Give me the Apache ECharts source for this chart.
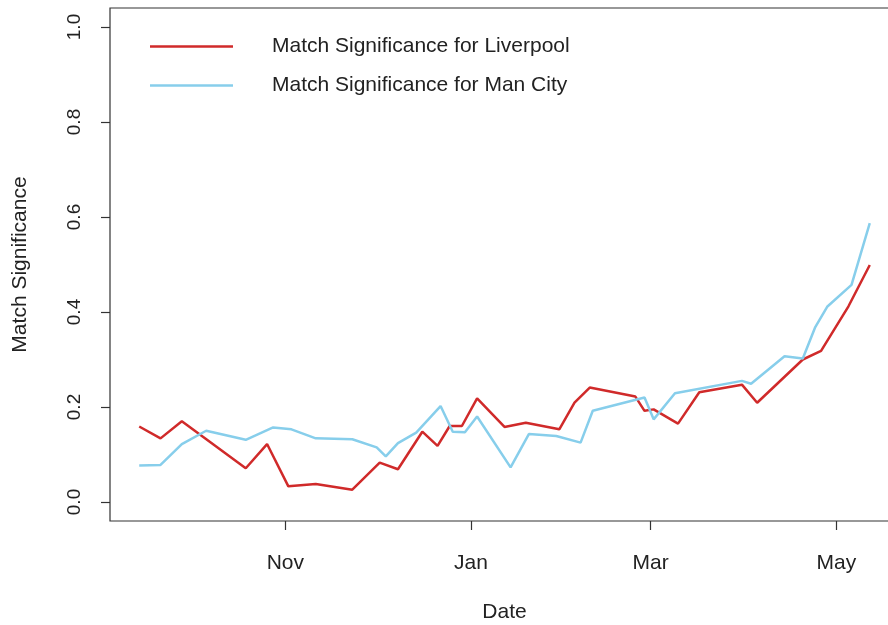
<!DOCTYPE html>
<html lang="en">
<head>
    <meta charset="UTF-8">
    <title>Match Significance</title>
    <script src="https://cdn.jsdelivr.net/npm/echarts@6/dist/echarts.min.js"></script>
</head>
<style>
    *{
        margin: 0;
        padding: 0;
    }
    html , body{
        width: 100%;
        height: 100%;
        overflow: hidden;
        background: #fff;
    }
    .container{
        width: 888px;
        height: 625px;
    }
</style>
<body>
<div class="container"></div>
<script>
    // match dates and values
    let liverpoolDates=['2018-09-14','2018-09-21','2018-09-28','2018-10-19','2018-10-26','2018-11-02','2018-11-11',
        '2018-11-23','2018-12-02','2018-12-08','2018-12-16','2018-12-21','2018-12-25','2018-12-29','2019-01-03',
        '2019-01-12','2019-01-19','2019-01-30','2019-02-04','2019-02-09','2019-02-24','2019-02-27','2019-03-02',
        '2019-03-10','2019-03-17','2019-03-31','2019-04-05','2019-04-20','2019-04-26','2019-05-05','2019-05-12'];
    let liverpoolValues=[0.159,0.134,0.170,0.071,0.122,0.033,0.038,
        0.026,0.083,0.069,0.148,0.118,0.160,0.160,0.218,
        0.158,0.167,0.153,0.209,0.241,0.222,0.192,0.195,
        0.165,0.231,0.247,0.209,0.300,0.318,0.412,0.499];

    let cityDates=['2018-09-14','2018-09-21','2018-09-28','2018-10-06','2018-10-19','2018-10-28','2018-11-03',
        '2018-11-11','2018-11-23','2018-12-01','2018-12-04','2018-12-08','2018-12-14','2018-12-22','2018-12-26',
        '2018-12-30','2019-01-03','2019-01-14','2019-01-20','2019-01-29','2019-02-06','2019-02-10','2019-02-27',
        '2019-03-02','2019-03-09','2019-03-31','2019-04-03','2019-04-14','2019-04-20','2019-04-24','2019-04-28',
        '2019-05-06','2019-05-12'];
    let cityValues=[0.077,0.078,0.122,0.150,0.131,0.157,0.153,
        0.134,0.132,0.115,0.096,0.124,0.146,0.202,0.148,
        0.147,0.180,0.073,0.143,0.139,0.125,0.192,0.220,
        0.174,0.229,0.255,0.249,0.307,0.302,0.367,0.411,
        0.457,0.587];

    let tickDates=['2018-11-01','2019-01-01','2019-03-01','2019-05-01'];
    let tickLabels=['Nov','Jan','Mar','May'];
    let yTicks=[0,0.2,0.4,0.6,0.8,1.0];

    // dates as day numbers (UTC) so the x axis is a plain value axis
    function toDay(s){
        let p=s.split('-');
        return Date.UTC(+p[0],+p[1]-1,+p[2])/86400000;
    }

    let container=document.querySelector('.container');
    let mycharts=echarts.init(container);

    let tickDays=tickDates.map(toDay);
    let font='"Liberation Sans", Arial, sans-serif';

    let option={
        animation:false,
        backgroundColor:'#fff',
        textStyle:{fontFamily:font},
        grid:{
            left:110,
            width:789,
            top:8,
            height:513,
            outerBoundsMode:'none',
            containLabel:false,
            show:true,
            borderColor:'#333',
            borderWidth:1.2
        },
        legend:{
            orient:'vertical',
            left:150,
            top:36,
            padding:0,
            itemWidth:83,
            itemHeight:2.5,
            itemGap:18,
            icon:'rect',
            textStyle:{
                fontFamily:font,
                fontSize:21,
                lineHeight:21,
                color:'#222',
                padding:[0,0,0,34]
            },
            data:['Match Significance for Liverpool','Match Significance for Man City']
        },
        xAxis:{
            type:'value',
            min:toDay('2018-09-04')+0.4,
            max:toDay('2019-05-21')+0.6,
            name:'Date',
            nameLocation:'middle',
            nameGap:81,
            nameTextStyle:{fontFamily:font,fontSize:21,color:'#222'},
            axisLine:{show:false,onZero:false},
            splitLine:{show:false},
            axisTick:{
                show:true,
                length:9,
                customValues:tickDays,
                lineStyle:{color:'#333',width:1.2}
            },
            axisLabel:{
                customValues:tickDays,
                margin:32,
                fontFamily:font,
                fontSize:21,
                color:'#222',
                formatter:function (value) {
                    let i=tickDays.indexOf(value);
                    return i>=0 ? tickLabels[i] : '';
                }
            }
        },
        yAxis:{
            type:'value',
            min:-0.04,
            max:1.04,
            name:'Match Significance',
            nameLocation:'middle',
            nameGap:79,
            nameTextStyle:{fontFamily:font,fontSize:21,color:'#222'},
            axisLine:{show:false,onZero:false},
            splitLine:{show:false},
            axisTick:{
                show:true,
                length:9,
                customValues:yTicks,
                lineStyle:{color:'#333',width:1.2}
            },
            axisLabel:{
                customValues:yTicks,
                rotate:90,
                margin:26,
                fontFamily:font,
                fontSize:19,
                color:'#222',
                formatter:function (value) {
                    return value.toFixed(1);
                }
            }
        },
        series:[
            {
                name:'Match Significance for Liverpool',
                type:'line',
                showSymbol:false,
                color:'#d02a2a',
                lineStyle:{width:2.5},
                data:liverpoolDates.map((d,i)=>[toDay(d),liverpoolValues[i]])
            },
            {
                name:'Match Significance for Man City',
                type:'line',
                showSymbol:false,
                color:'#87ceeb',
                lineStyle:{width:2.5},
                data:cityDates.map((d,i)=>[toDay(d),cityValues[i]])
            }
        ]
    };
    mycharts.setOption(option);
</script>

</body>
</html>
